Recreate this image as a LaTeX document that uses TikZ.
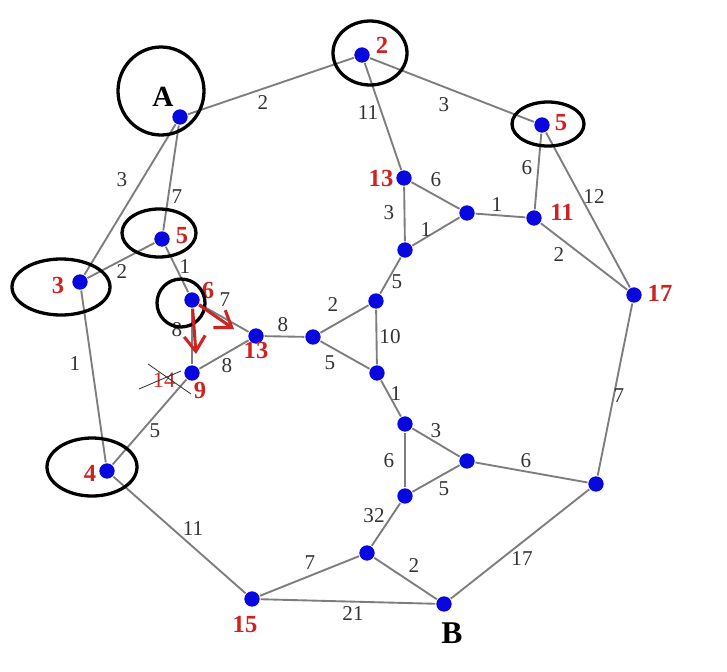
\documentclass[tikz,border=0pt]{standalone}
\usepackage{fontspec}
\setmainfont{Liberation Serif}
\usetikzlibrary{arrows.meta}

\begin{document}
\begin{tikzpicture}[x=0.03cm,y=-0.03cm,line width=1.6pt]
  \definecolor{edgegray}{RGB}{125,125,125}
  \definecolor{dotblue}{RGB}{8,8,222}
  \definecolor{lblred}{RGB}{205,35,35}
  \definecolor{wgray}{RGB}{50,50,50}
  \tikzset{dot/.style={circle,fill=dotblue,inner sep=0pt,minimum size=0.46cm},
    wlab/.style={wgray,font=\fontsize{18}{18}\selectfont,inner sep=0pt},
    dlab/.style={lblred,font=\fontsize{21}{21}\selectfont\bfseries,inner sep=0pt},
    endlab/.style={black,font=\fontsize{27}{27}\selectfont\bfseries,inner sep=0pt},
    ring/.style={black,line width=2.8pt},
    redarrow/.style={lblred,line width=2.6pt,-{Straight Barb[length=13pt,width=18pt]}}}
  \useasboundingbox (0,0) rectangle (727,671);
  % vertices
  \node[dot] (A) at (180,117) {};
  \node[dot] (v2) at (362,55) {};
  \node[dot] (v5r) at (542,125) {};
  \node[dot] (v5l) at (162,239) {};
  \node[dot] (v3) at (80,282) {};
  \node[dot] (v6) at (192,300) {};
  \node[dot] (v13a) at (256,336) {};
  \node[dot] (vCl) at (313,337) {};
  \node[dot] (vCt) at (376,301) {};
  \node[dot] (vCb) at (377,373) {};
  \node[dot] (v9) at (192,373) {};
  \node[dot] (v4) at (107,471) {};
  \node[dot] (v15) at (252,599) {};
  \node[dot] (B) at (444,604) {};
  \node[dot] (vJ) at (367,553) {};
  \node[dot] (vLb) at (405,496) {};
  \node[dot] (vLt) at (405,424) {};
  \node[dot] (vLr) at (467,461) {};
  \node[dot] (vR) at (596,484) {};
  \node[dot] (v17) at (634,295) {};
  \node[dot] (v11) at (534,218) {};
  \node[dot] (vUr) at (467,213) {};
  \node[dot] (v13b) at (404,178) {};
  \node[dot] (vUb) at (405,250) {};
  % edges and weights
  \foreach \a/\b/\w/\x/\y in {A/v2/2/263/103, A/v3/3/122/180, A/v5l/7/177/197,
      v5l/v3/2/122/272, v5l/v6/1/185/267, v3/v4/1/75/364, v6/v13a/7/225/300,
      v6/v9/8/177/330, v13a/v9/8/227/366, v9/v4/5/155/431, v4/v15/11/193/529,
      v15/B/21/353/614, v15/vJ/7/310/563, vJ/B/2/414/566, vJ/vLb/32/374/516,
      vLb/vLt/6/389/461, vLb/vLr/5/444/489, vLt/vLr/3/436/431, vLr/vR/6/526/461,
      vR/B/17/522/559, vR/v17/7/619/396, v17/v5r/12/594/197, v17/v11/2/559/255,
      v11/v5r/6/527/168, v11/vUr/1/497/205, vUr/v13b/6/436/180, vUr/vUb/1/426/230,
      v13b/vUb/3/389/213, v13b/v2/11/368/113, v2/v5r/3/444/105, vUb/vCt/5/397/282,
      vCt/vCl/2/333/305, vCt/vCb/10/390/337, vCl/vCb/5/330/363, vCl/v13a/8/283/325,
      vCb/vLt/1/396/394}{
    \draw[edgegray] (\a) -- (\b);
    \node[wlab] (w\a\b) at (\x,\y) {\w};
  }
  % distance labels
  \node[endlab,font=\fontsize{25}{25}\selectfont\bfseries] (lA) at (163,97) {A};
  \node[endlab] (lB) at (452,633) {B};
  \node[dlab] (l2) at (382,45) {2};
  \node[dlab] (l5r) at (561,123) {5};
  \node[dlab] (l5l) at (182,236) {5};
  \node[dlab] (l3) at (58,285) {3};
  \node[dlab] (l6) at (208,290) {6};
  \node[dlab] (l13a) at (256,350) {13};
  \node[dlab] (l9) at (200,390) {9};
  \node[dlab] (l4) at (90,473) {4};
  \node[dlab] (l15) at (245,624) {15};
  \node[dlab] (l17) at (660,293) {17};
  \node[dlab] (l11) at (562,212) {11};
  \node[dlab] (l13b) at (381,178) {13};
  \node[dlab,font=\fontsize{19}{19}\selectfont] (l14) at (164,380) {14};
  \draw[wgray,line width=0.7pt] ([shift={(-16,-16)}]l14.center) -- ([shift={(27,14)}]l14.center);
  \draw[wgray,line width=0.7pt] ([shift={(-25,9)}]l14.center) -- ([shift={(17,-9)}]l14.center);
  % rings
  \draw[ring] (161,91) ellipse [x radius=43, y radius=44];
  \draw[ring] (370,53) ellipse [x radius=37, y radius=32];
  \draw[ring] (548,124) ellipse [x radius=36, y radius=22];
  \draw[ring] (159,233) ellipse [x radius=37, y radius=24];
  \draw[ring] (61,287) ellipse [x radius=49, y radius=28];
  \draw[ring] (181,303) ellipse [x radius=24, y radius=24];
  \draw[ring] (92,467) ellipse [x radius=45, y radius=29];
  % red arrows
  \coordinate (tipR) at (234,329);
  \coordinate (tipD) at (196,354);
  \draw[redarrow] (v6) -- (tipR);
  \draw[redarrow] (v6) -- (tipD);
\end{tikzpicture}
\end{document}
